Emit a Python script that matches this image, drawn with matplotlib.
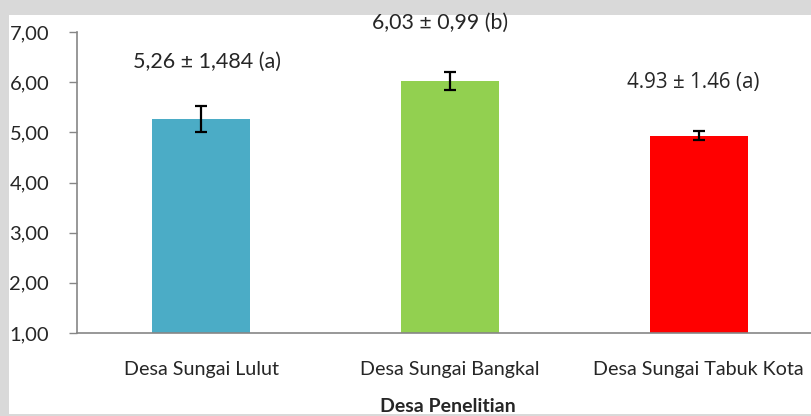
import matplotlib.pyplot as plt
from matplotlib.patches import Rectangle

# --- data ---
desa = ["Desa Sungai Lulut", "Desa Sungai Bangkal", "Desa Sungai Tabuk Kota"]
rata2 = [5.26, 6.03, 4.93]
galat = [0.26, 0.18, 0.09]
label_nilai = ["5,26 ± 1,484 (a)", "6,03 ± 0,99 (b)", "4.93 ± 1.46 (a)"]
label_y = [6.40, 7.18, 6.00]
warna = ["#4BACC6", "#92D050", "#FF0000"]
yticks = [1, 2, 3, 4, 5, 6, 7]
ytick_labels = ["1,00", "2,00", "3,00", "4,00", "5,00", "6,00", "7,00"]

plt.rcParams["font.family"] = ["Lato", "DejaVu Sans"]
TEXT = "#262626"
AXIS = "#868686"

W, H = 812, 416
fig = plt.figure(figsize=(W / 100, H / 100), dpi=100)
fig.patch.set_facecolor("#D9D9D9")

# white chart panel
fig.patches.append(Rectangle((9 / W, 2 / H), 1 - 9 / W, (414 - 15) / H,
                             transform=fig.transFigure, facecolor="white",
                             edgecolor="none", zorder=0))

# plot area (right side runs past the edge of the canvas)
ax = fig.add_axes([77 / W, 83 / H, 746 / W, 301 / H])
ax.set_facecolor("none")
ax.set_zorder(2)

x = range(len(desa))
ax.bar(x, rata2, width=0.394, bottom=0, color=warna, zorder=2)
ax.errorbar(x, rata2, yerr=galat, fmt="none", ecolor="black",
            elinewidth=1.6, capsize=4.5, capthick=1.6, zorder=3)

# keterangan rata-rata ± SD (huruf notasi uji lanjut)
fonts = [["Lato"], ["Lato"], ["Open Sans"]]
sizes = [15.5, 15.3, 14.8]
geser = [0.023, -0.04, -0.022]
for i, (t, yy) in enumerate(zip(label_nilai, label_y)):
    ax.text(i + geser[i], yy, t, ha="center", va="center",
            fontsize=sizes[i], color=TEXT, family=fonts[i], clip_on=False)

ax.set_xlim(-0.5, 2.5)
ax.set_ylim(1, 7)
ax.set_yticks(yticks)
ax.set_yticklabels(ytick_labels)
ax.set_xticks(list(x))
ax.set_xticklabels(desa)

for s in ["top", "right"]:
    ax.spines[s].set_visible(False)
for s in ["left", "bottom"]:
    ax.spines[s].set_color(AXIS)
    ax.spines[s].set_linewidth(1.2)

ax.tick_params(axis="y", length=6, width=1, color=AXIS, direction="out",
               labelsize=14.5, labelcolor=TEXT, pad=14)
ax.tick_params(axis="x", length=0, labelsize=14.2, labelcolor=TEXT, pad=20)

ax.set_xlabel("Desa Penelitian", fontsize=14, fontweight="bold", color=TEXT)
ax.xaxis.set_label_coords((448 - 77) / 746, -(398 - 333) / 301)

fig.savefig("out.png", dpi=100)
